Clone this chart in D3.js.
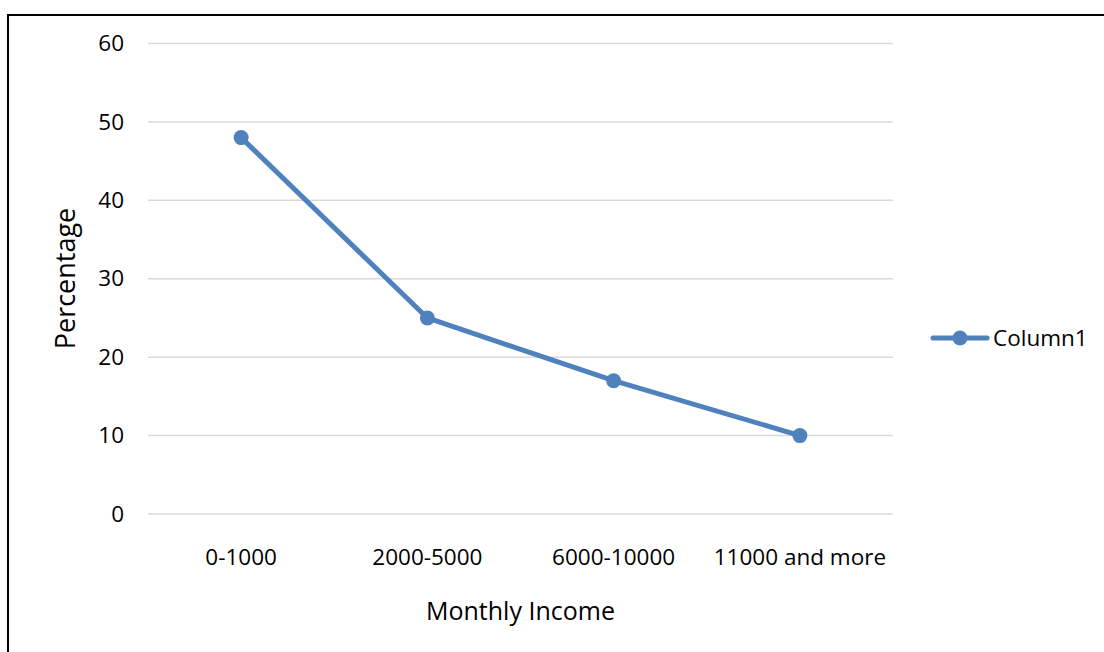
<!DOCTYPE html>
<html>
<head>
<meta charset="utf-8">
<script src="https://cdn.jsdelivr.net/npm/d3@7"></script>
<style>
  html, body { margin: 0; padding: 0; background: #fff; }
  svg { display: block; }
  text { font-family: "Open Sans", "Noto Sans", sans-serif; fill: #000; }
</style>
</head>
<body>
<svg id="chart" width="1104" height="652"></svg>
<script>
// Share of respondents by monthly income bracket
const categories = ["0-1000", "2000-5000", "6000-10000", "11000 and more"];
const values = [48, 25, 17, 10];
const yTicks = [0, 10, 20, 30, 40, 50, 60];
const seriesName = "Column1";

const W = 1104, H = 652;
const plot = { left: 148, right: 893, top: 43.5, bottom: 514 };
const blue = "#4F81BD";

const svg = d3.select("#chart");

// outer frame (extends past the visible area on right and bottom)
svg.append("rect")
  .attr("x", 8).attr("y", 15)
  .attr("width", W + 40).attr("height", H + 40)
  .attr("fill", "none").attr("stroke", "#000").attr("stroke-width", 2);

const x = d3.scaleBand().domain(categories).range([plot.left, plot.right]);
const y = d3.scaleLinear().domain([0, 60]).range([plot.bottom, plot.top]);

// horizontal gridlines
svg.append("g")
  .selectAll("line")
  .data(yTicks)
  .join("line")
  .attr("x1", plot.left).attr("x2", plot.right)
  .attr("y1", d => y(d)).attr("y2", d => y(d))
  .attr("stroke", "#D9D9D9").attr("stroke-width", 1.5);

// y axis labels
const yAxis = d3.axisLeft(y).tickValues(yTicks).tickSize(0).tickPadding(0);
const gy = svg.append("g").attr("transform", `translate(${plot.left - 24},0)`).call(yAxis);
gy.select(".domain").remove();
gy.selectAll("text").style("font-size", "22.5px").style("font-family", null).attr("fill", "#000");

// x axis labels
const xAxis = d3.axisBottom(x).tickSize(0).tickPadding(0);
const gx = svg.append("g").attr("transform", `translate(0,${plot.bottom + 35})`).call(xAxis);
gx.select(".domain").remove();
gx.selectAll("text").style("font-size", "22.5px").style("font-family", null).attr("fill", "#000");

const cx = d => x(d) + x.bandwidth() / 2;

// series line
const line = d3.line().x((d, i) => cx(categories[i])).y(d => y(d));
svg.append("path")
  .datum(values)
  .attr("d", line)
  .attr("fill", "none")
  .attr("stroke", blue)
  .attr("stroke-width", 5)
  .attr("stroke-linejoin", "round");

// markers
svg.append("g")
  .selectAll("circle")
  .data(values)
  .join("circle")
  .attr("cx", (d, i) => cx(categories[i]))
  .attr("cy", d => y(d))
  .attr("r", 7.5)
  .attr("fill", blue);

// axis titles
svg.append("text")
  .attr("x", (plot.left + plot.right) / 2)
  .attr("y", 620)
  .attr("text-anchor", "middle")
  .style("font-size", "25px")
  .text("Monthly Income");

svg.append("text")
  .attr("transform", `translate(75,278.5) rotate(-90)`)
  .attr("text-anchor", "middle")
  .style("font-size", "27px")
  .text("Percentage");

// legend
const lg = svg.append("g").attr("transform", "translate(933,338)");
lg.append("line")
  .attr("x1", 0).attr("x2", 54).attr("y1", 0).attr("y2", 0)
  .attr("stroke", blue).attr("stroke-width", 5).attr("stroke-linecap", "round");
lg.append("circle").attr("cx", 27).attr("cy", 0).attr("r", 7.5).attr("fill", blue);
lg.append("text")
  .attr("x", 60).attr("y", 8)
  .style("font-size", "22.5px")
  .text(seriesName);
</script>
</body>
</html>
